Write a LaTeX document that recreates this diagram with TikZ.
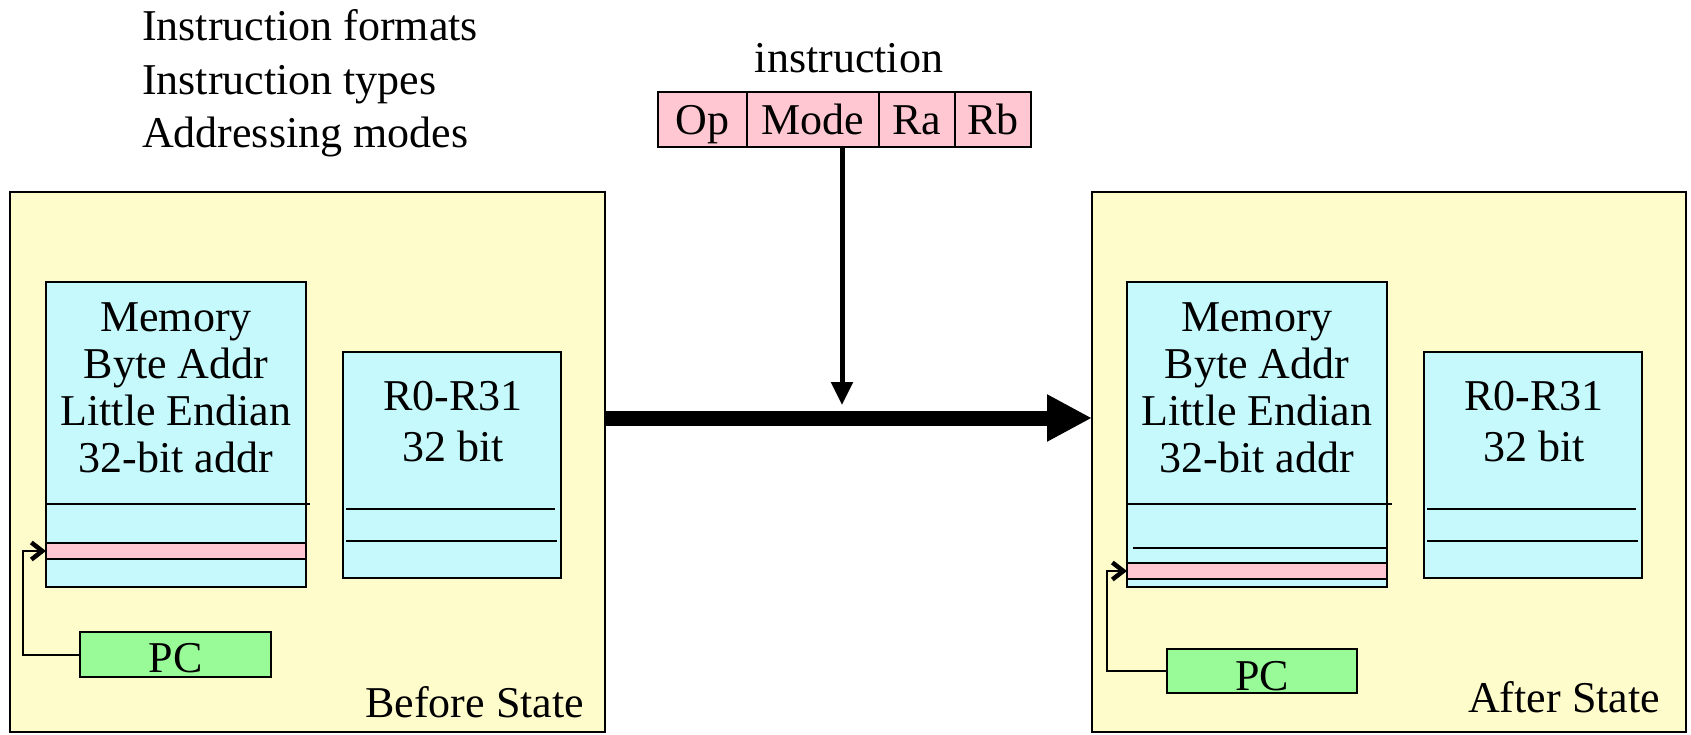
\documentclass[tikz,border=0pt]{standalone}
\usepackage{fontspec}
\setmainfont{Liberation Serif}
\usetikzlibrary{arrows.meta,calc}
\definecolor{stateyellow}{RGB}{255,252,204}
\definecolor{memcyan}{RGB}{198,249,252}
\definecolor{slotpink}{RGB}{255,199,209}
\definecolor{pcgreen}{RGB}{152,251,152}
\newcommand{\txtbig}{\fontsize{44}{47}\selectfont}
\begin{document}
\begin{tikzpicture}[x=1pt,y=-1pt,
  box/.style={draw=black, line width=2pt, inner sep=0pt, outer sep=0pt, anchor=north west},
  statebox/.style={box, fill=stateyellow, minimum height=540pt},
  membox/.style={box, fill=memcyan, minimum width=260pt, minimum height=305pt},
  regbox/.style={box, fill=memcyan, minimum width=218pt, minimum height=226pt},
  slotbox/.style={box, line width=2.5pt, fill=slotpink, minimum width=260pt, minimum height=16pt},
  pcbox/.style={box, fill=pcgreen, font=\txtbig, text height=30pt, text depth=0pt},
  fieldbox/.style={box, fill=slotpink, minimum height=55pt, font=\txtbig, text height=30pt, text depth=0pt},
  txt/.style={inner sep=0pt, outer sep=0pt, font=\txtbig},
  rowline/.style={draw=black, line width=2.5pt},
  pcline/.style={draw=black, line width=2pt, -{Straight Barb[length=11pt,width=17pt,line width=4.5pt]}},
  bigarrow/.style={draw=black, line width=15pt, -{Triangle[length=45pt,width=44pt]}},
  smallarrow/.style={draw=black, line width=5pt, -{Triangle[length=23pt,width=21pt]}}
]
\useasboundingbox (0,0) rectangle (1691,734);
\fill[white] (0,0) rectangle (1691,734);

% topic list
\node[txt, anchor=north west, align=left, font={\fontsize{44}{53.5}\selectfont}] (topics) at (142,10)
  {Instruction formats\\Instruction types\\Addressing modes};

% instruction word
\node[txt, anchor=base] (instrlabel) at (849,72) {instruction};
\node[fieldbox, minimum width=89pt]  (op)   at (658,92) {Op};
\node[fieldbox, minimum width=132pt] (mode) at (747,92) {Mode};
\node[fieldbox, minimum width=76pt]  (ra)   at (879,92) {Ra};
\node[fieldbox, minimum width=76pt]  (rb)   at (955,92) {Rb};

% ---------- before state ----------
\node[statebox, minimum width=595pt] (stateA) at (10,192) {};
\node[membox] (memA) at (46,282) {};
\node[txt, anchor=north, align=center] (memtextA) at (176,303)
  {Memory\\Byte Addr\\Little Endian\\32-bit addr};
\draw[rowline] (46,504) -- (310,504);
\node[slotbox] (slotA) at (46,543) {};
\node[regbox] (regA) at (343,352) {};
\node[txt, anchor=north, align=center, font={\fontsize{44}{51}\selectfont}] (regtextA) at (453,381)
  {R0-R31\\32 bit};
\draw[rowline] (346,509) -- (555,509);
\draw[rowline] (346,541) -- (557,541);
\node[pcbox, minimum width=191pt, minimum height=45pt] (pcA) at (80,632) {\raisebox{-3pt}{PC}};
\draw[pcline] (pcA.west) -- ++(-57,0) |- (slotA.west);
\node[txt, anchor=base east] (beforeA) at (584,717) {Before State};

% ---------- after state ----------
\node[statebox, minimum width=594pt] (stateB) at (1092,192) {};
\node[membox] (memB) at (1127,282) {};
\node[txt, anchor=north, align=center] (memtextB) at (1257,303)
  {Memory\\Byte Addr\\Little Endian\\32-bit addr};
\draw[rowline] (1127,504) -- (1392,504);
\draw[rowline] (1133,548) -- (1387,548);
\node[slotbox] (slotB) at (1127,563) {};
\node[regbox] (regB) at (1424,352) {};
\node[txt, anchor=north, align=center, font={\fontsize{44}{51}\selectfont}] (regtextB) at (1534,381)
  {R0-R31\\32 bit};
\draw[rowline] (1427,509) -- (1636,509);
\draw[rowline] (1427,541) -- (1638,541);
\node[pcbox, minimum width=190pt, minimum height=44pt] (pcB) at (1167,649) {\raisebox{-4pt}{PC}};
\draw[pcline] (pcB.west) -- ++(-60,0) |- (slotB.west);
\node[txt, anchor=base east] (afterB) at (1660,712) {After State};

% execution step
\draw[bigarrow] ([yshift=44pt]stateA.east) -- ([yshift=44pt]stateB.west);
\coordinate (hit) at (842,405);
\draw[smallarrow] ([xshift=29pt]mode.south) -- (hit);
\end{tikzpicture}
\end{document}
